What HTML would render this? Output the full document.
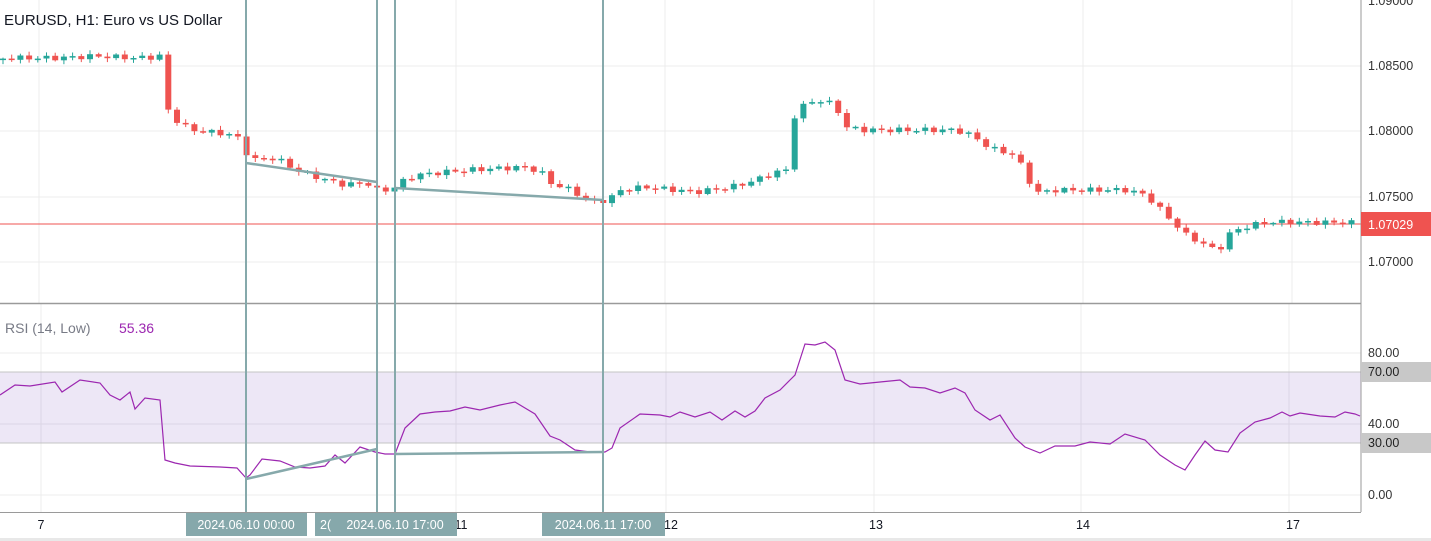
<!DOCTYPE html>
<html><head><meta charset="utf-8"><style>
html,body{margin:0;padding:0;background:#fff;width:1431px;height:541px;overflow:hidden}
svg{display:block;font-family:"Liberation Sans",sans-serif}
</style></head><body>
<svg id="s" width="1431" height="541" xmlns="http://www.w3.org/2000/svg">
<rect width="1431" height="541" fill="#fff"/>
<g stroke="#ececec" stroke-width="1">
<line x1="0" x2="1361" y1="66" y2="66"/><line x1="0" x2="1361" y1="131" y2="131"/>
<line x1="0" x2="1361" y1="197" y2="197"/><line x1="0" x2="1361" y1="262" y2="262"/>
<line x1="39" x2="39" y1="0" y2="303"/><line x1="456" x2="456" y1="0" y2="303"/><line x1="665" x2="665" y1="0" y2="303"/>
<line x1="874" x2="874" y1="0" y2="303"/><line x1="1083" x2="1083" y1="0" y2="303"/><line x1="1292" x2="1292" y1="0" y2="303"/>
<line x1="41" x2="41" y1="304" y2="512"/><line x1="456" x2="456" y1="304" y2="512"/><line x1="666" x2="666" y1="304" y2="512"/>
<line x1="874" x2="874" y1="304" y2="512"/><line x1="1081" x2="1081" y1="304" y2="512"/><line x1="1289" x2="1289" y1="304" y2="512"/>
<line x1="0" x2="1361" y1="353" y2="353"/><line x1="0" x2="1361" y1="424" y2="424"/><line x1="0" x2="1361" y1="495" y2="495"/>
</g>
<rect x="0" y="372" width="1361" height="71" fill="#7e57c2" fill-opacity="0.14"/>
<line x1="0" x2="1361" y1="372" y2="372" stroke="#c4c4c4"/>
<line x1="0" x2="1361" y1="443" y2="443" stroke="#c4c4c4"/>
<line x1="0" x2="1361" y1="224" y2="224" stroke="#ef5350" stroke-width="1"/>
<g id="candles"></g>
<polyline id="rsi" fill="none" stroke="#9c27b0" stroke-width="1.2"/>
<line x1="0" x2="1361" y1="303.5" y2="303.5" stroke="#9a9a9a" stroke-width="1.5"/>
<line x1="1361" x2="1361" y1="0" y2="512" stroke="#9a9a9a"/>
<line x1="0" x2="1361" y1="512.5" y2="512.5" stroke="#9a9a9a"/>
<rect x="0" y="538" width="1431" height="3" fill="#e8e8e8"/>
<g stroke="#86a9ab" stroke-width="2">
<line x1="246" x2="246" y1="0" y2="512"/><line x1="377" x2="377" y1="0" y2="512"/>
<line x1="395" x2="395" y1="0" y2="512"/><line x1="603" x2="603" y1="0" y2="512"/>
<line x1="246" y1="163" x2="377" y2="182" stroke-width="2.5"/><line x1="395" y1="188" x2="603" y2="200" stroke-width="2.5"/>
<line x1="246" y1="479" x2="377" y2="449" stroke-width="2.5"/><line x1="395" y1="454" x2="603" y2="452" stroke-width="2.5"/>
</g>
<text x="4" y="25" font-size="15" fill="#131722">EURUSD, H1: Euro vs US Dollar</text>
<text x="5" y="333" font-size="14" fill="#787b86">RSI (14, Low)</text>
<text x="119" y="333" font-size="14" fill="#9c27b0">55.36</text>
<g font-size="12.5" fill="#333">
<text x="1368" y="5">1.09000</text>
<text x="1368" y="70">1.08500</text><text x="1368" y="135">1.08000</text>
<text x="1368" y="201">1.07500</text><text x="1368" y="266">1.07000</text>
<text x="1368" y="357">80.00</text><text x="1368" y="428">40.00</text><text x="1368" y="499">0.00</text>
</g>
<rect x="1361" y="212" width="70" height="24" fill="#ef5350"/>
<text x="1368" y="229" font-size="12.5" fill="#fff">1.07029</text>
<rect x="1361" y="362" width="70" height="20" fill="#c8c8c8"/>
<text x="1368" y="376" font-size="12.5" fill="#222">70.00</text>
<rect x="1361" y="433" width="70" height="20" fill="#c8c8c8"/>
<text x="1368" y="447" font-size="12.5" fill="#222">30.00</text>
<g font-size="12.5" fill="#131722" text-anchor="middle">
<text x="41" y="529">7</text><text x="461" y="529">11</text><text x="671" y="529">12</text>
<text x="876" y="529">13</text><text x="1083" y="529">14</text><text x="1293" y="529">17</text>
</g>
<rect x="186" y="513" width="121" height="23" fill="#86a8ab"/>
<text x="246" y="529" font-size="12.5" fill="#fff" text-anchor="middle">2024.06.10 00:00</text>
<rect x="315" y="513" width="142" height="23" fill="#86a8ab"/>
<text x="320" y="529" font-size="12.5" fill="#fff">2(</text>
<text x="395" y="529" font-size="12.5" fill="#fff" text-anchor="middle">2024.06.10 17:00</text>
<rect x="542" y="513" width="123" height="23" fill="#86a8ab"/>
<text x="603" y="529" font-size="12.5" fill="#fff" text-anchor="middle">2024.06.11 17:00</text>
</svg>
<script>
(function(){
var NS="http://www.w3.org/2000/svg";
var P=[[0,60],[10,58],[60,58],[100,56],[140,58],[160,57],[167,55],[172,110],[180,120],[195,130],[240,135],[255,160],[280,158],[300,170],[330,180],[350,185],[370,182],[380,190],[395,190],[405,182],[420,175],[470,170],[530,167],[545,172],[555,183],[575,190],[595,202],[612,200],[625,190],[650,187],[700,192],[740,186],[760,180],[780,172],[792,170],[797,118],[810,103],[822,100],[840,105],[848,127],[870,130],[960,130],[975,135],[990,145],[1000,150],[1020,155],[1030,175],[1040,193],[1060,190],[1130,190],[1150,195],[1165,210],[1180,225],[1190,235],[1210,245],[1222,252],[1232,235],[1245,228],[1270,222],[1400,223]];
function interp(pts,x){for(var i=1;i<pts.length;i++){if(x<=pts[i][0]){var a=pts[i-1],b=pts[i];return a[1]+(b[1]-a[1])*(x-a[0])/(b[0]-a[0]);}}return pts[pts.length-1][1];}
function el(tag,attrs){var e=document.createElementNS(NS,tag);for(var k in attrs)e.setAttribute(k,attrs[k]);return e;}
var g=document.getElementById('candles');var prev=interp(P,0);
for(var i=0;i<156;i++){
 var x=3+i*8.7;
 var c=interp(P,x+4)+Math.sin(i*2.3)*2.5;
 var o=prev;
 var col=(c<o)?'#26a69a':'#ef5350';
 var bt=Math.min(o,c),bb=Math.max(o,c);
 if(bb-bt<1.5)bb=bt+1.5;
 var wt=bt-1-Math.abs(Math.sin(i*1.7))*3;
 var wb=bb+1+Math.abs(Math.cos(i*1.3))*3;
 g.appendChild(el('line',{x1:x.toFixed(1),x2:x.toFixed(1),y1:wt.toFixed(1),y2:wb.toFixed(1),stroke:col,'stroke-width':'1'}));
 g.appendChild(el('rect',{x:(x-3).toFixed(1),y:bt.toFixed(1),width:'6',height:(bb-bt).toFixed(1),fill:col}));
 prev=c;
}
var R=[[0,395],[15,385],[30,386],[55,382],[62,392],[80,380],[100,383],[110,395],[120,400],[130,392],[135,409],[145,398],[160,400],[165,460],[175,463],[190,466],[220,467],[237,468],[246,478],[250,475],[262,459],[280,461],[295,467],[310,468],[325,466],[335,455],[345,463],[360,447],[375,452],[385,454],[395,454],[405,428],[420,414],[435,412],[450,411],[465,407],[480,410],[500,405],[515,402],[525,408],[535,414],[550,436],[560,440],[575,450],[590,452],[605,452],[612,448],[620,428],[640,414],[660,415],[670,417],[680,412],[695,417],[710,412],[722,420],[735,411],[745,417],[755,411],[765,398],[780,390],[790,380],[795,375],[805,344],[815,345],[825,342],[835,350],[845,380],[860,384],[880,382],[900,380],[910,387],[925,388],[940,393],[955,388],[965,393],[975,410],[990,420],[1000,415],[1015,438],[1025,447],[1040,453],[1055,446],[1075,446],[1090,442],[1110,444],[1125,434],[1145,440],[1160,455],[1175,465],[1185,470],[1195,455],[1205,441],[1215,450],[1228,452],[1240,433],[1255,422],[1270,418],[1282,412],[1290,416],[1300,413],[1320,416],[1335,417],[1345,412],[1355,414],[1360,416]];
document.getElementById('rsi').setAttribute('points',R.map(function(p){return p[0]+','+p[1]}).join(' '));
})();
</script>
</body></html>
